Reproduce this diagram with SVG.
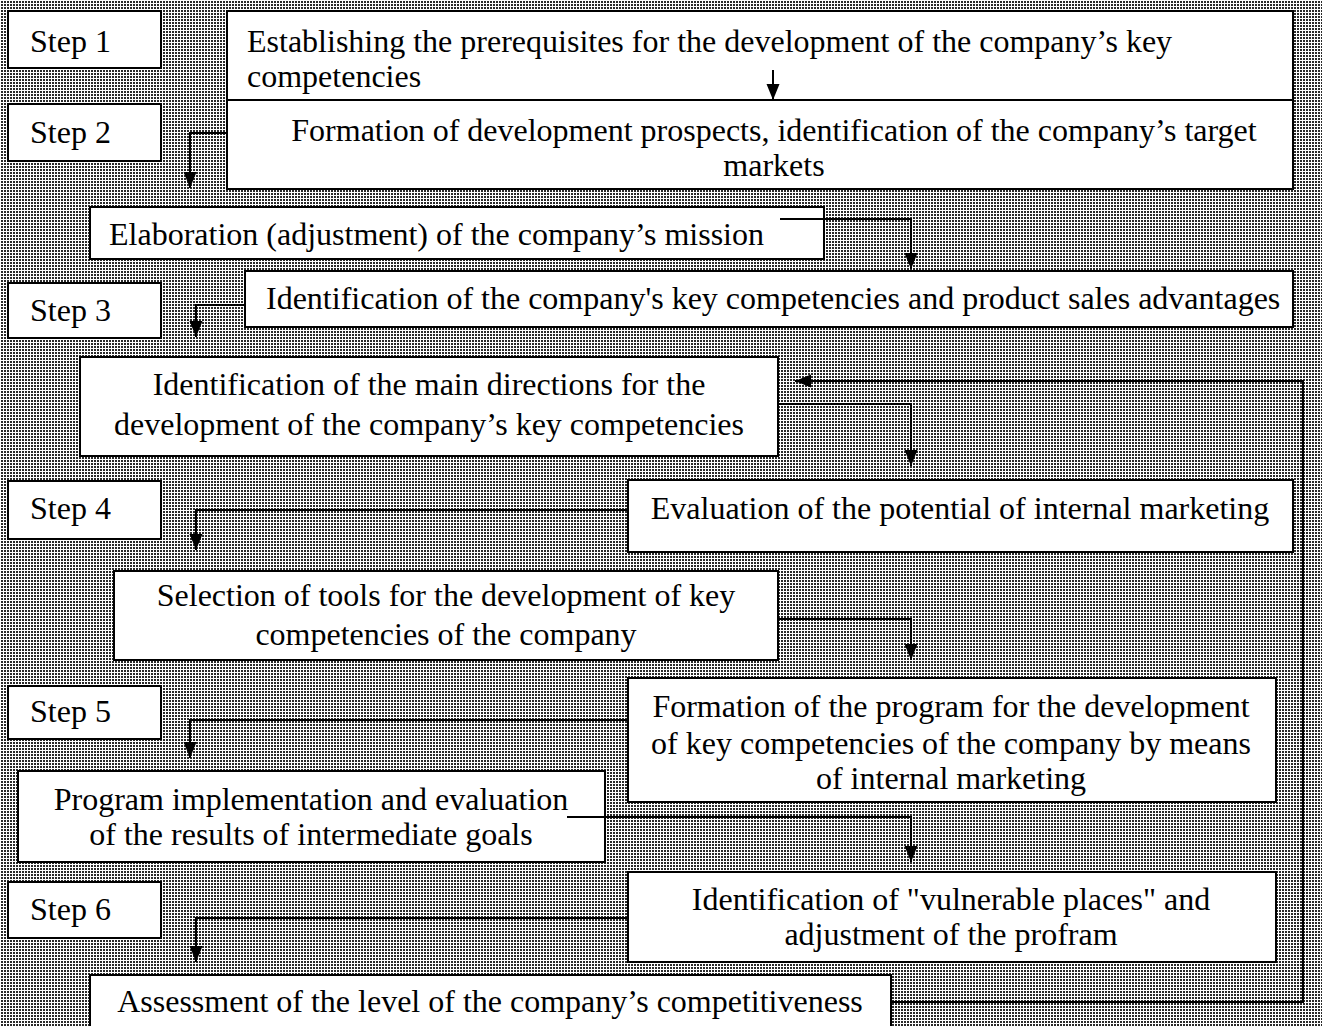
<svg xmlns="http://www.w3.org/2000/svg" width="1322" height="1026" viewBox="0 0 1322 1026">
<defs>
<pattern id="dots" width="3" height="3" patternUnits="userSpaceOnUse">
<rect width="3" height="3" fill="#fff"/>
<rect x="1" y="1" width="2" height="2" fill="#2a2a2a"/>
</pattern>
<marker id="arr" markerUnits="userSpaceOnUse" markerWidth="16" markerHeight="14" viewBox="0 0 16 14" refX="16" refY="7" orient="auto">
<path d="M0,0.5 L16,7 L0,13.5 Z" fill="#000"/>
</marker>
</defs>
<style>
.box{fill:#fff;stroke:#000;stroke-width:2}
.t{font-family:"Liberation Serif","Times New Roman",serif;font-size:32px;fill:#000}
.c{text-anchor:middle}
.ln{fill:none;stroke:#000;stroke-width:2;marker-end:url(#arr)}
</style>
<rect width="1322" height="1026" fill="url(#dots)"/>
<g id="step1"><rect class="box" x="8" y="11" width="153" height="57"/><text class="t" x="30" y="52">Step 1</text></g>
<g id="step2"><rect class="box" x="8" y="104" width="153" height="57"/><text class="t" x="30" y="143">Step 2</text></g>
<g id="step3"><rect class="box" x="8" y="283" width="153" height="55"/><text class="t" x="30" y="321">Step 3</text></g>
<g id="step4"><rect class="box" x="8" y="481" width="153" height="58"/><text class="t" x="30" y="519">Step 4</text></g>
<g id="step5"><rect class="box" x="8" y="686" width="153" height="53"/><text class="t" x="30" y="722">Step 5</text></g>
<g id="step6"><rect class="box" x="8" y="882" width="153" height="56"/><text class="t" x="30" y="920">Step 6</text></g>
<g id="nodeA"><rect class="box" x="227" y="11" width="1066" height="89"/>
<text class="t" x="247" y="52">Establishing the prerequisites for the development of the company’s key</text>
<text class="t" x="247" y="87">competencies</text></g>
<g id="nodeB"><rect class="box" x="227" y="100" width="1066" height="89"/>
<text class="t c" x="774" y="141">Formation of development prospects, identification of the company’s target</text>
<text class="t c" x="774" y="176">markets</text></g>
<g id="nodeC"><rect class="box" x="90" y="207" width="734" height="52"/>
<text class="t" x="109" y="245">Elaboration (adjustment) of the company’s mission</text></g>
<g id="nodeD"><rect class="box" x="245" y="271" width="1048" height="56"/>
<text class="t" x="266" y="309">Identification of the company's key competencies and product sales advantages</text></g>
<g id="nodeE"><rect class="box" x="80" y="357" width="698" height="99"/>
<text class="t c" x="429" y="395">Identification of the main directions for the</text>
<text class="t c" x="429" y="435">development of the company’s key competencies</text></g>
<g id="nodeF"><rect class="box" x="628" y="480" width="665" height="72"/>
<text class="t c" x="960" y="519">Evaluation of the potential of internal marketing</text></g>
<g id="nodeG"><rect class="box" x="114" y="571" width="664" height="89"/>
<text class="t c" x="446" y="606">Selection of tools for the development of key</text>
<text class="t c" x="446" y="645">competencies of the company</text></g>
<g id="nodeH"><rect class="box" x="628" y="678" width="648" height="124"/>
<text class="t c" x="951" y="717">Formation of the program for the development</text>
<text class="t c" x="951" y="754">of key competencies of the company by means</text>
<text class="t c" x="951" y="789">of internal marketing</text></g>
<g id="nodeI"><rect class="box" x="18" y="771" width="587" height="91"/>
<text class="t c" x="311" y="810">Program implementation and evaluation</text>
<text class="t c" x="311" y="845">of the results of intermediate goals</text></g>
<g id="nodeJ"><rect class="box" x="628" y="872" width="648" height="90"/>
<text class="t c" x="951" y="910">Identification of "vulnerable places" and</text>
<text class="t c" x="951" y="945">adjustment of the profram</text></g>
<g id="nodeK"><rect class="box" x="90" y="975" width="801" height="60"/>
<text class="t c" x="490" y="1012">Assessment of the level of the company’s competitiveness</text></g>
<g id="connectors">
<path class="ln" d="M773,70 V100"/>
<path class="ln" d="M227,133 H190 V188"/>
<path class="ln" d="M780,219 H911 V269"/>
<path class="ln" d="M245,305 H196 V337"/>
<path class="ln" d="M778,404 H911 V466"/>
<path class="ln" d="M628,510 H196 V550"/>
<path class="ln" d="M778,619 H911 V660"/>
<path class="ln" d="M628,720 H190 V758"/>
<path class="ln" d="M567,817 H911 V862"/>
<path class="ln" d="M628,918 H196 V962"/>
<path class="ln" d="M891,1002 H1303 V381 H795"/>
</g>
</svg>
